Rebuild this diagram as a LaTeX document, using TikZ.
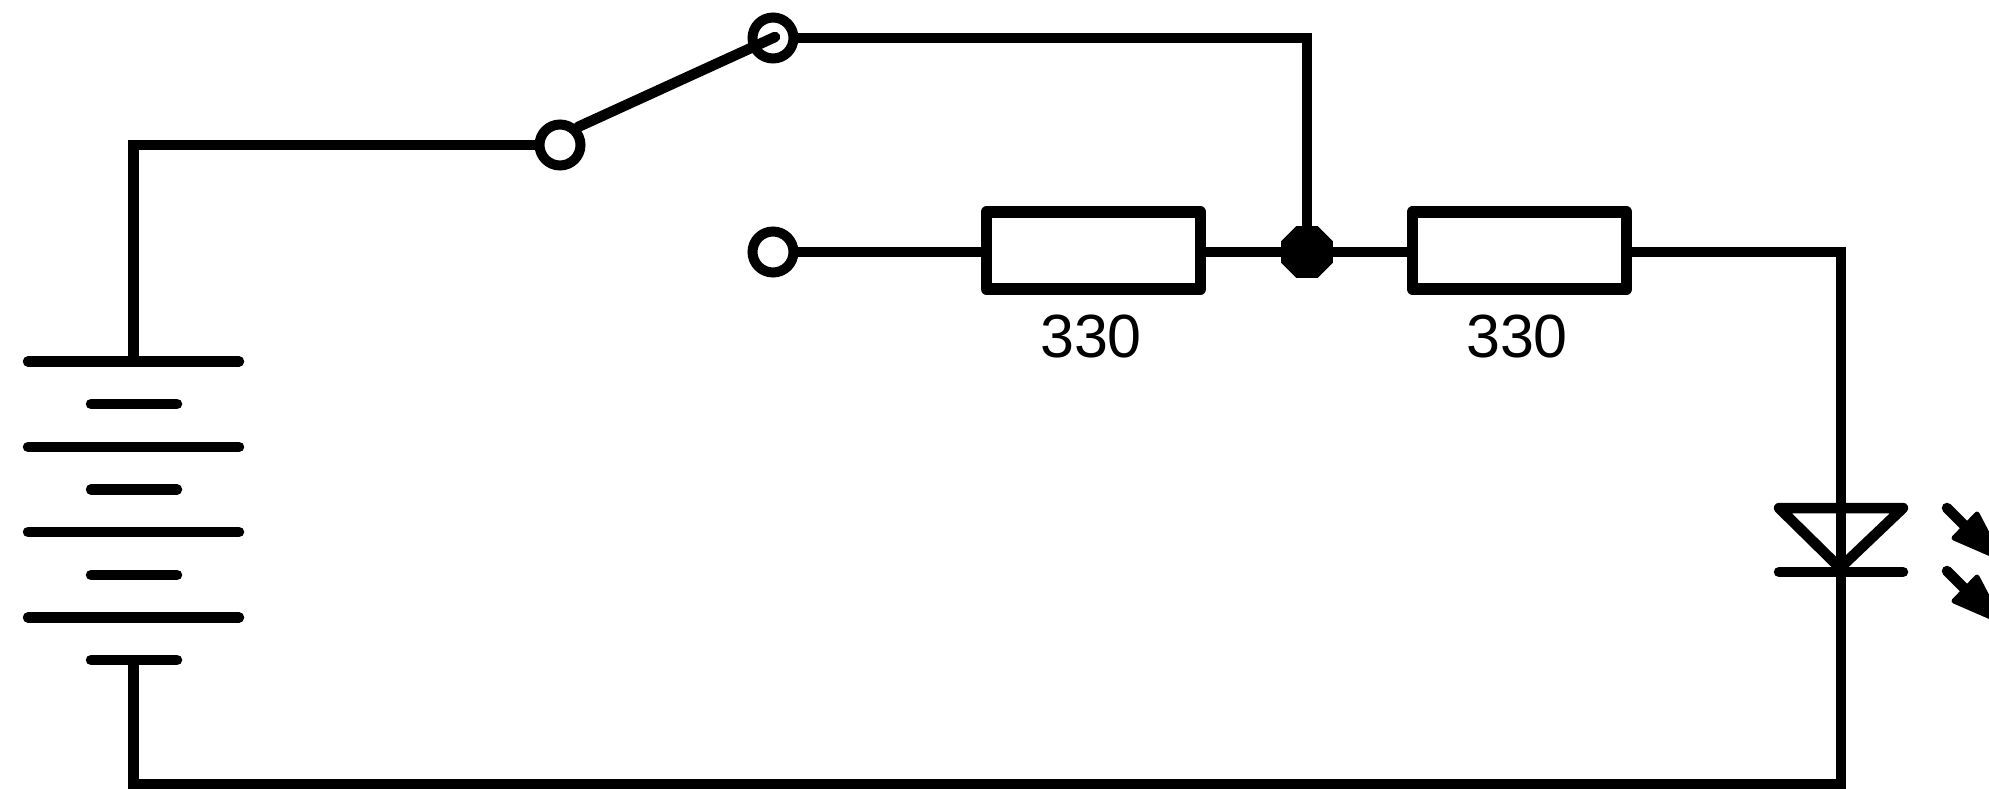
\documentclass[tikz,border=0pt]{standalone}
\usepackage{fontspec}
\setmainfont{Liberation Sans}
\usetikzlibrary{calc,shapes.geometric}
\tikzset{
  wire/.style={line width=10.5pt,line cap=round,line join=round,black},
  wiresq/.style={line width=10.5pt,line cap=butt,line join=miter,black},
  terminal/.style={circle,draw=black,fill=white,line width=10pt,minimum size=41pt,inner sep=0pt},
  junction/.style={regular polygon,regular polygon sides=8,fill=black,minimum size=56pt,inner sep=0pt,outer sep=0pt},
  resistor/.style={rectangle,draw=black,fill=white,line width=11.5pt,line join=round,minimum width=214pt,minimum height=77pt,inner sep=0pt},
  value/.style={font=\fontsize{61}{61}\selectfont,text=black,inner sep=0pt},
  cell/.style={line width=10.5pt,line cap=round,black},
  headfill/.style={fill=black,draw=black,line width=5pt,line join=round}
}
\begin{document}
\begin{tikzpicture}[x=1pt,y=-1pt]
\useasboundingbox (0,0) rectangle (1989,789);
\clip (0,0) rectangle (1989,789);
\fill[white] (0,0) rectangle (1989,789);
% coordinates
\coordinate (battTop) at (133.5,361.5);
\coordinate (battBot) at (133.5,660);
\coordinate (cornerTL) at (133.5,145);
\coordinate (cornerBL) at (133.5,784);
\coordinate (cornerBR) at (1841,784);
\coordinate (cornerTR) at (1307,38);
\coordinate (cornerR) at (1841,252);
\coordinate (armEnd) at (775,37);
\coordinate (apex) at (1840,568);
% battery
\foreach \y in {361.5,447,532,617.5}
  \draw[cell] (28,\y) -- (239,\y);
\foreach \y in {404,489.5,575,660}
  \draw[cell] (91,\y) -- (177,\y);
% nodes
\node[resistor] (r1) at (1093.5,250.5) {};
\node[resistor] (r2) at (1519.5,250.5) {};
\node[value] (v1) at (1091,336) {330};
\node[value] (v2) at (1517,336) {330};
% wires
\draw[wiresq] (battTop) -- (cornerTL) -- (560,145);
\draw[wiresq] (battBot) -- (cornerBL) -- (cornerBR) -- (cornerR) -- (1627,252);
\draw[wiresq] (773,38) -- (cornerTR) -- (1307,252);
\draw[wiresq] (773,252) -- (987,252);
\draw[wiresq] (1201,252) -- (1412,252);
% terminals
\node[terminal] (a) at (560,145) {};
\node[terminal] (b) at (773,38) {};
\node[terminal] (c) at (773,252) {};
\node[junction] (j) at (1307,252) {};
\draw[wire] (a.45) -- (armEnd);
% diode
\draw[wire] (1779,508) -- (1903,508) -- (apex) -- cycle;
\draw[wire] (1779,572) -- (1903,572);
% light arrows
\foreach \d in {0,63}{
  \draw[wire] (1947,508+\d) -- (1975,536+\d);
  \draw[headfill] (1977,514+\d) -- (1954,538+\d) -- (2000,558+\d) -- cycle;
}
\end{tikzpicture}
\end{document}
